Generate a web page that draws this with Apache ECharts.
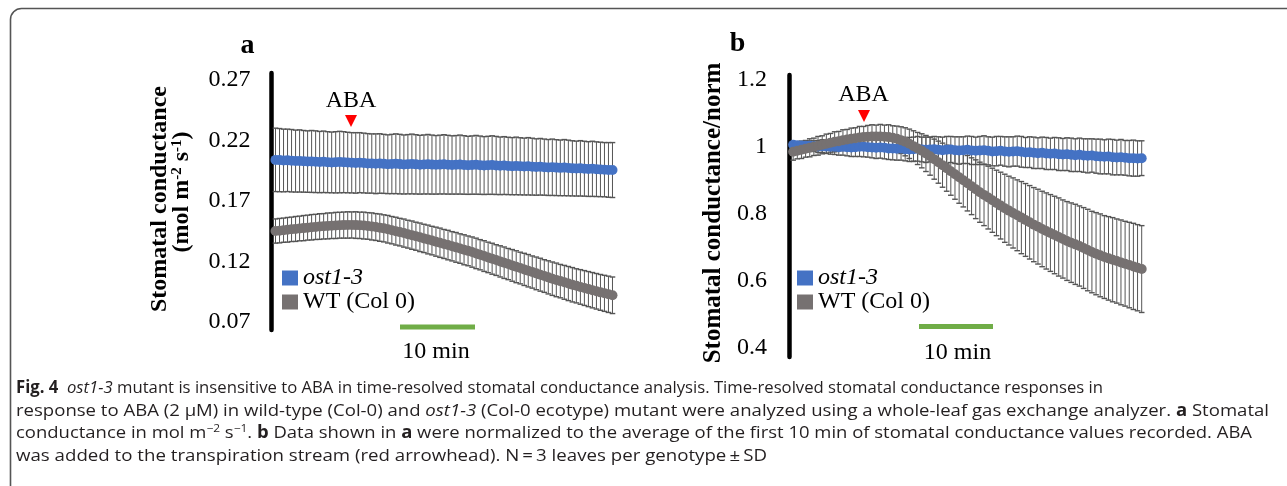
<!DOCTYPE html>
<html><head><meta charset="utf-8">
<script src="https://cdn.jsdelivr.net/npm/echarts@6/dist/echarts.min.js"></script>
<style>html,body{margin:0;padding:0;background:#fff}#c{width:1287px;height:486px}</style>
</head><body><div id="c"></div>
<script>
// ---------- data ----------
const timeMin = [0,0.5,1,1.5,2,2.5,3,3.5,4,4.5,5,5.5,6,6.5,7,7.5,8,8.5,9,9.5,10,10.5,11,11.5,12,12.5,13,13.5,14,14.5,15,15.5,16,16.5,17,17.5,18,18.5,19,19.5,20,20.5,21,21.5,22,22.5,23,23.5,24,24.5,25,25.5,26,26.5,27,27.5,28,28.5,29,29.5,30,30.5,31,31.5,32,32.5,33,33.5,34,34.5,35,35.5,36,36.5,37,37.5,38,38.5,39,39.5,40,40.5,41,41.5,42];

// panel a: stomatal conductance (mol m-2 s-1)
const ost13A = [0.2040,0.2038,0.2035,0.2036,0.2033,0.2030,0.2031,0.2028,0.2026,0.2027,
0.2025,0.2022,0.2024,0.2021,0.2019,0.2020,0.2022,0.2021,0.2018,0.2016,
0.2015,0.2017,0.2014,0.2011,0.2010,0.2008,0.2010,0.2007,0.2004,0.2006,
0.2008,0.2005,0.2002,0.2004,0.2006,0.2003,0.2000,0.2002,0.2004,0.2001,
0.1999,0.2001,0.2003,0.2000,0.1998,0.1999,0.2001,0.1998,0.1995,0.1997,
0.1999,0.1996,0.1993,0.1995,0.1997,0.1994,0.1991,0.1993,0.1990,0.1988,
0.1990,0.1987,0.1985,0.1987,0.1984,0.1981,0.1983,0.1980,0.1977,0.1979,
0.1976,0.1974,0.1976,0.1973,0.1970,0.1968,0.1970,0.1967,0.1964,0.1966,
0.1963,0.1961,0.1959,0.1957,0.1956];
const ost13ASd = [0.0262,0.0261,0.0259,0.0258,0.0258,0.0256,0.0257,0.0255,0.0254,0.0256,
0.0255,0.0253,0.0254,0.0252,0.0251,0.0253,0.0254,0.0252,0.0250,0.0249,
0.0250,0.0248,0.0247,0.0246,0.0245,0.0247,0.0246,0.0244,0.0243,0.0245,
0.0247,0.0246,0.0244,0.0245,0.0247,0.0245,0.0243,0.0244,0.0246,0.0244,
0.0242,0.0243,0.0245,0.0243,0.0241,0.0242,0.0244,0.0242,0.0240,0.0241,
0.0243,0.0241,0.0239,0.0240,0.0242,0.0240,0.0238,0.0239,0.0237,0.0236,
0.0238,0.0236,0.0235,0.0237,0.0235,0.0233,0.0234,0.0232,0.0231,0.0233,
0.0231,0.0230,0.0232,0.0230,0.0228,0.0227,0.0229,0.0227,0.0226,0.0228,
0.0226,0.0225,0.0224,0.0226,0.0227];
const wtA = [0.1452,0.1455,0.1459,0.1462,0.1466,0.1469,0.1473,0.1476,0.1480,0.1483,
0.1486,0.1489,0.1491,0.1494,0.1496,0.1498,0.1500,0.1501,0.1502,0.1502,
0.1501,0.1499,0.1497,0.1494,0.1490,0.1485,0.1480,0.1474,0.1467,0.1459,
0.1451,0.1443,0.1435,0.1426,0.1418,0.1409,0.1400,0.1391,0.1382,0.1373,
0.1364,0.1355,0.1345,0.1336,0.1326,0.1317,0.1307,0.1297,0.1288,0.1278,
0.1267,0.1256,0.1245,0.1234,0.1223,0.1212,0.1201,0.1190,0.1179,0.1168,
0.1157,0.1146,0.1135,0.1124,0.1113,0.1102,0.1091,0.1080,0.1069,0.1058,
0.1048,0.1038,0.1028,0.1018,0.1008,0.0999,0.0990,0.0981,0.0972,0.0963,
0.0954,0.0945,0.0937,0.0929,0.0921];
const wtASd = [0.0100,0.0101,0.0100,0.0102,0.0101,0.0103,0.0102,0.0104,0.0103,0.0105,
0.0104,0.0106,0.0105,0.0107,0.0106,0.0108,0.0107,0.0108,0.0109,0.0108,
0.0110,0.0109,0.0111,0.0110,0.0112,0.0111,0.0113,0.0112,0.0114,0.0113,
0.0115,0.0114,0.0116,0.0115,0.0117,0.0116,0.0118,0.0117,0.0119,0.0118,
0.0120,0.0121,0.0120,0.0122,0.0121,0.0123,0.0122,0.0124,0.0123,0.0125,
0.0126,0.0125,0.0127,0.0126,0.0128,0.0127,0.0129,0.0130,0.0129,0.0131,
0.0132,0.0131,0.0133,0.0134,0.0133,0.0135,0.0136,0.0135,0.0137,0.0138,
0.0139,0.0138,0.0140,0.0141,0.0142,0.0141,0.0143,0.0144,0.0145,0.0146,
0.0147,0.0148,0.0149,0.0150,0.0151];

// panel b: normalized stomatal conductance
const ost13B = [1.006,1.005,1.004,1.003,1.003,1.002,1.001,1.002,1.001,1.000,
1.000,0.999,1.000,0.999,0.998,0.999,1.000,1.000,0.999,0.998,
0.997,0.998,0.997,0.995,0.995,0.994,0.995,0.993,0.992,0.993,
0.994,0.992,0.991,0.992,0.993,0.991,0.990,0.991,0.992,0.990,
0.989,0.990,0.991,0.989,0.988,0.989,0.990,0.988,0.986,0.987,
0.988,0.986,0.985,0.986,0.987,0.985,0.983,0.984,0.982,0.981,
0.982,0.980,0.979,0.980,0.978,0.977,0.978,0.976,0.975,0.976,
0.974,0.973,0.974,0.972,0.971,0.970,0.971,0.969,0.968,0.969,
0.967,0.966,0.966,0.965,0.966];
const ost13BSd = [0.008,0.010,0.012,0.013,0.015,0.016,0.018,0.019,0.020,0.022,
0.023,0.024,0.025,0.026,0.027,0.028,0.029,0.030,0.030,0.031,
0.032,0.032,0.033,0.033,0.034,0.034,0.035,0.035,0.036,0.036,
0.037,0.037,0.038,0.037,0.038,0.039,0.039,0.040,0.039,0.040,
0.041,0.040,0.041,0.042,0.041,0.042,0.043,0.042,0.043,0.044,
0.043,0.044,0.045,0.044,0.045,0.046,0.045,0.046,0.047,0.046,
0.047,0.048,0.047,0.048,0.049,0.048,0.049,0.050,0.049,0.050,
0.050,0.051,0.050,0.051,0.052,0.051,0.052,0.053,0.052,0.053,
0.052,0.053,0.054,0.053,0.052];
const wtB = [0.985,0.988,0.991,0.994,0.997,1.000,1.003,1.006,1.009,1.012,
1.015,1.017,1.020,1.022,1.024,1.026,1.028,1.029,1.030,1.031,
1.031,1.031,1.030,1.029,1.027,1.024,1.020,1.015,1.009,1.002,
0.995,0.988,0.980,0.972,0.963,0.954,0.945,0.936,0.927,0.918,
0.909,0.900,0.891,0.882,0.873,0.864,0.856,0.848,0.840,0.832,
0.824,0.816,0.809,0.802,0.795,0.788,0.781,0.774,0.767,0.761,
0.754,0.748,0.742,0.736,0.730,0.724,0.718,0.713,0.708,0.703,
0.697,0.691,0.685,0.680,0.675,0.670,0.666,0.662,0.658,0.654,
0.650,0.646,0.642,0.638,0.634];
const wtBSd = [0.025,0.024,0.026,0.025,0.027,0.026,0.028,0.027,0.029,0.028,
0.030,0.029,0.031,0.030,0.032,0.031,0.033,0.032,0.034,0.035,
0.034,0.036,0.035,0.037,0.036,0.038,0.040,0.042,0.044,0.046,
0.048,0.051,0.054,0.057,0.060,0.063,0.066,0.069,0.072,0.075,
0.078,0.080,0.083,0.085,0.088,0.090,0.092,0.094,0.096,0.098,
0.100,0.102,0.103,0.105,0.106,0.108,0.109,0.110,0.111,0.112,
0.113,0.114,0.115,0.116,0.117,0.117,0.118,0.119,0.120,0.120,
0.121,0.122,0.122,0.123,0.124,0.124,0.125,0.126,0.126,0.127,
0.127,0.128,0.129,0.129,0.130];

const ticksA = [0.07, 0.12, 0.17, 0.22, 0.27];
const ticksB = [0.4, 0.6, 0.8, 1, 1.2];
const seriesNames = ['ost1-3', 'WT (Col 0)'];

// caption lines as [style, text] runs: n normal, b bold, i italic, s superscript
const captionLines = [
  [['b','Fig. 4'],['n','  '],['i','ost1-3'],['n',' mutant is insensitive to ABA in time-resolved stomatal conductance analysis. Time-resolved stomatal conductance responses in']],
  [['n','response to ABA (2 \u00b5M) in wild-type (Col-0) and '],['i','ost1-3'],['n',' (Col-0 ecotype) mutant were analyzed using a whole-leaf gas exchange analyzer. '],['b','a'],['n',' Stomatal']],
  [['n','conductance in mol m'],['s','\u22122'],['n',' s'],['s','\u22121'],['n','. '],['b','b'],['n',' Data shown in '],['b','a'],['n',' were normalized to the average of the first 10 min of stomatal conductance values recorded. ABA']],
  [['n','was added to the transpiration stream (red arrowhead). N\u2009=\u20093 leaves per genotype\u2009\u00b1\u2009SD']]
];

// ---------- styling ----------
const SERIF = 'Liberation Serif';
const CAP = 'Open Sans';
const BLUE = '#4472C4', GRAY = '#767171', BAR = '#555555', GREEN = '#70AD47';
const CAP_LEFT = 16, CAP_RIGHTS = [1103, 1269, 1252, 767], CAP_YS = [388, 411, 433, 456];
const capFonts = {n:'17px "'+CAP+'"', b:'bold 17px "'+CAP+'"', i:'italic 17px "'+CAP+'"', s:'11px "'+CAP+'"'};

function pairs(vals){ return timeMin.map((t,i)=>[t, vals[i]]); }
function errorBars(means, sds, ax){
  return {
    type:'custom', xAxisIndex:ax, yAxisIndex:ax, z:1, silent:true,
    encode:{x:0, y:[1,2]},
    data: timeMin.map((t,i)=>[t, means[i]-sds[i], means[i]+sds[i]]),
    renderItem(params, api){
      const lo = api.coord([api.value(0), api.value(1)]);
      const hi = api.coord([api.value(0), api.value(2)]);
      const hw = 2.8;
      const st = {stroke:BAR, lineWidth:1};
      const cs = {stroke:BAR, lineWidth:1.4};
      return {type:'group', children:[
        {type:'line', shape:{x1:lo[0],y1:lo[1],x2:hi[0],y2:hi[1]}, style:st},
        {type:'line', shape:{x1:lo[0]-hw,y1:lo[1],x2:lo[0]+hw,y2:lo[1]}, style:cs},
        {type:'line', shape:{x1:hi[0]-hw,y1:hi[1],x2:hi[0]+hw,y2:hi[1]}, style:cs}
      ]};
    }
  };
}
function dots(name, vals, ax, color, z){
  return {type:'line', name, xAxisIndex:ax, yAxisIndex:ax, data:pairs(vals),
    symbol:'circle', symbolSize:10, showAllSymbol:true, z,
    itemStyle:{color}, lineStyle:{color, width:7}, emphasis:{disabled:true}};
}
function yAxis(min, max, ticks, margin){
  return {type:'value', min, max, position:'left',
    axisLine:{show:true, onZero:false, lineStyle:{color:'#000', width:4.5}},
    axisTick:{show:false}, splitLine:{show:false},
    axisLabel:{customValues:ticks, margin, color:'#000', fontFamily:SERIF, fontSize:24}};
}
function legend(left){
  return {left, top:266, orient:'vertical', icon:'rect', itemWidth:16, itemHeight:15,
    itemGap:0, padding:0, data:seriesNames, selectedMode:false,
    formatter:n=> n==='ost1-3' ? '{i|'+n+'}' : '{r|'+n+'}',
    textStyle:{color:'#000', fontFamily:SERIF, fontSize:24, lineHeight:23,
      rich:{i:{fontStyle:'italic', fontFamily:SERIF, fontSize:24, color:'#000', lineHeight:23},
            r:{fontFamily:SERIF, fontSize:24, color:'#000', lineHeight:23}}}};
}
function txt(x, y, text, size, extra){
  return {type:'text', x, y, style:Object.assign({text, fill:'#000',
    font: size+'px "'+SERIF+'"', align:'center', verticalAlign:'middle'}, extra||{})};
}
function tri(cx, top, w, h){
  return {type:'polygon', shape:{points:[[cx-w/2,top],[cx+w/2,top],[cx,top+h]]}, style:{fill:'#FF0000'}};
}
const measureCtx = document.createElement('canvas').getContext('2d');
function runsWidth(runs){
  let w = 0;
  runs.forEach(([s,t])=>{ measureCtx.font = capFonts[s]; w += measureCtx.measureText(t).width; });
  return w;
}
function capLine(k){
  const runs = captionLines[k];
  const text = runs.map(([s,t])=>'{'+s+'|'+t+'}').join('');
  const sx = (CAP_RIGHTS[k]-CAP_LEFT)/runsWidth(runs);
  const rich = {};
  Object.keys(capFonts).forEach(s=>{
    rich[s] = {font:capFonts[s], fill:'#231f20'};
    if (s==='s') { rich[s].verticalAlign='top'; rich[s].lineHeight=20; }
  });
  return {type:'text', x:CAP_LEFT, y:CAP_YS[k], scaleX:sx,
    style:{text, fill:'#231f20', font:capFonts.n, align:'left', verticalAlign:'middle', rich}};
}

const chart = echarts.init(document.getElementById('c'), null, {renderer:'canvas'});
chart.setOption({
  animation:false,
  backgroundColor:'#fff',
  grid:[
    {left:271.5, top:73, width:349, height:257},
    {left:789, top:75, width:361, height:282}
  ],
  xAxis:[
    {type:'value', gridIndex:0, min:-0.5, max:43, show:false},
    {type:'value', gridIndex:1, min:-0.5, max:43, show:false}
  ],
  yAxis:[
    Object.assign(yAxis(0.0634, 0.2758, ticksA, 21), {gridIndex:0}),
    Object.assign(yAxis(0.3707, 1.215, ticksB, 22), {gridIndex:1})
  ],
  legend:[legend(282), legend(797)],
  series:[
    errorBars(ost13A, ost13ASd, 0),
    errorBars(wtA, wtASd, 0),
    dots(seriesNames[0], ost13A, 0, BLUE, 3),
    dots(seriesNames[1], wtA, 0, GRAY, 4),
    errorBars(ost13B, ost13BSd, 1),
    errorBars(wtB, wtBSd, 1),
    dots(seriesNames[0], ost13B, 1, BLUE, 3),
    dots(seriesNames[1], wtB, 1, GRAY, 4)
  ],
  graphic:[
    {type:'rect', shape:{x:10.5, y:8.5, width:1400, height:600, r:11}, style:{fill:'none', stroke:'#555', lineWidth:1.6}},
    // panel letters
    txt(247.5, 45.5, 'a', 28, {font:'bold 28px "'+SERIF+'"'}),
    txt(737.5, 44, 'b', 28, {font:'bold 28px "'+SERIF+'"'}),
    // y titles
    {type:'text', x:160, y:199, rotation:Math.PI/2, style:{text:'Stomatal conductance', fill:'#000',
      font:'bold 24px "'+SERIF+'"', align:'center', verticalAlign:'middle'}},
    {type:'text', x:182, y:192, rotation:Math.PI/2, style:{text:'(mol m{s|-2} s{s|-1})', fill:'#000',
      font:'bold 24px "'+SERIF+'"', align:'center', verticalAlign:'middle',
      rich:{s:{font:'bold 15px "'+SERIF+'"', fill:'#000', verticalAlign:'top', lineHeight:24}}}},
    {type:'text', x:714, y:213, rotation:Math.PI/2, style:{text:'Stomatal conductance/norm', fill:'#000',
      font:'bold 25px "'+SERIF+'"', align:'center', verticalAlign:'middle'}},
    // ABA arrows
    txt(351, 101, 'ABA', 24),
    tri(351, 115, 12, 12),
    txt(863.5, 95, 'ABA', 24),
    tri(864, 110, 12, 12),
    // 10 min scale bars
    {type:'rect', shape:{x:400, y:324.5, width:75, height:5}, style:{fill:GREEN}},
    {type:'rect', shape:{x:919, y:324, width:74, height:5}, style:{fill:GREEN}},
    txt(436, 352, '10 min', 24),
    txt(957.5, 352.5, '10 min', 24),
    // caption
    capLine(0), capLine(1), capLine(2), capLine(3)
  ]
});
</script></body></html>
